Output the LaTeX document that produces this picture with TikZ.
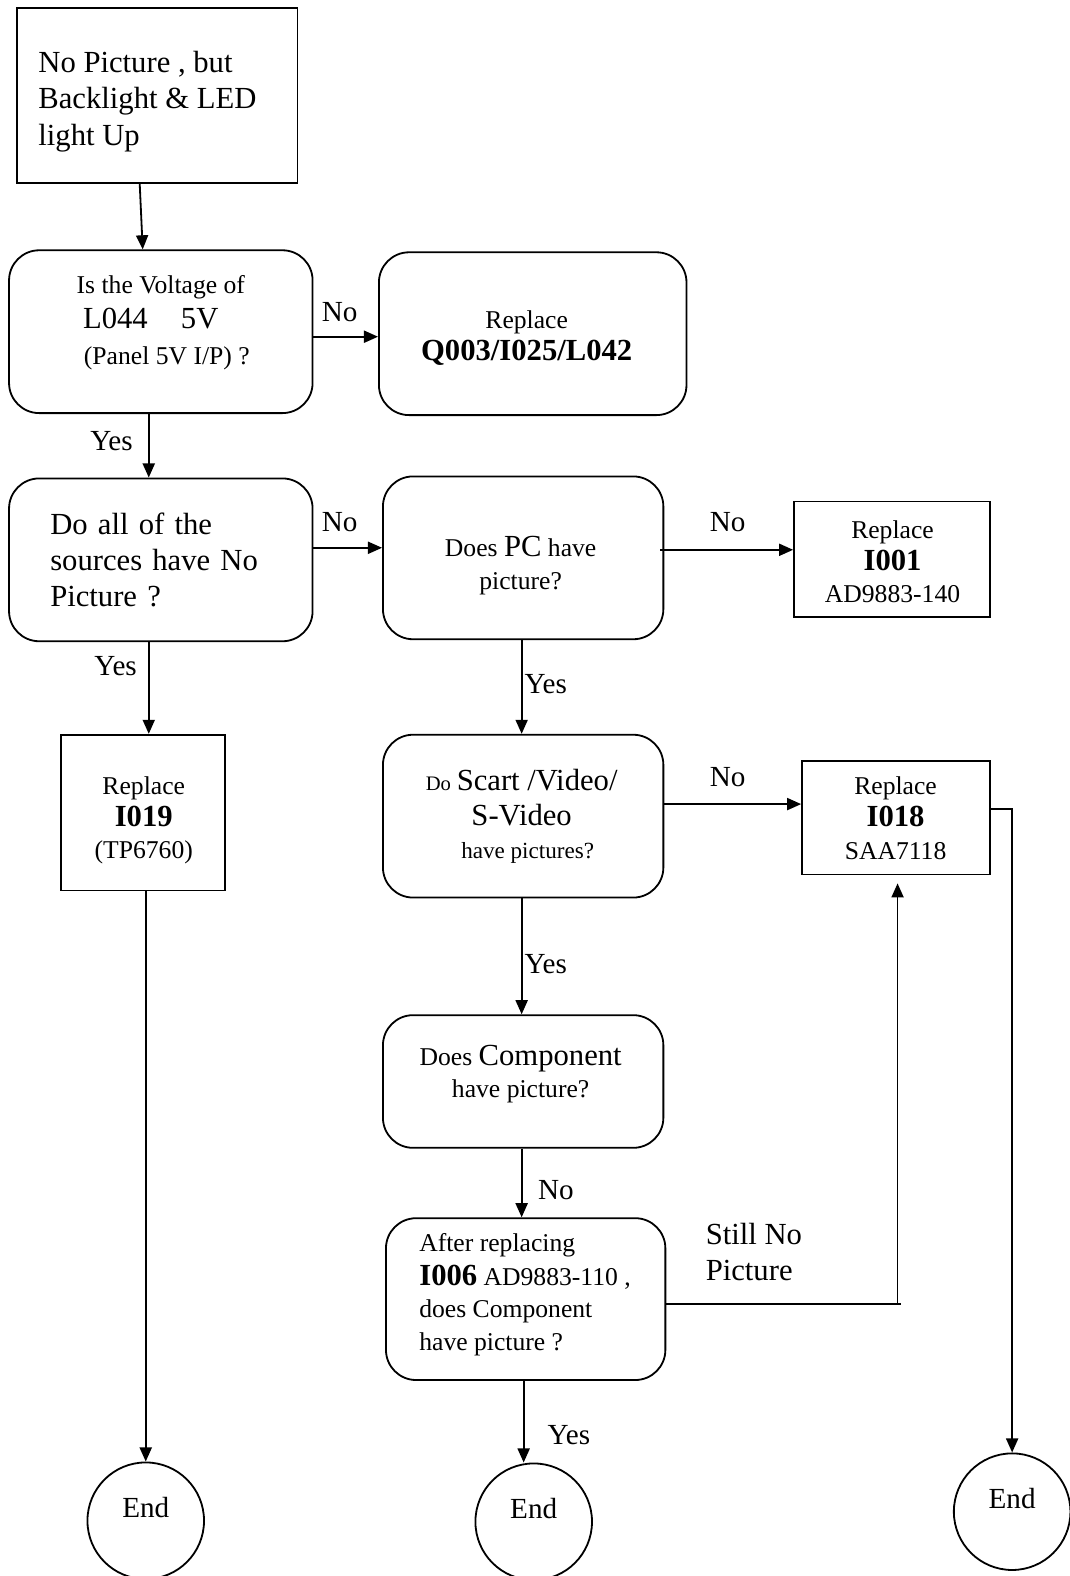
\documentclass[tikz,border=0pt]{standalone}
\usepackage{fontspec}
\setmainfont{Liberation Serif}
\usetikzlibrary{arrows.meta,calc}
\newcommand\fsz[2]{\fontsize{#1}{#2}\selectfont}
\begin{document}
\begin{tikzpicture}[x=1pt,y=-1pt,
  ln/.style={line width=1.8pt},
  arr/.style={line width=1.8pt,-{Triangle[length=14pt,width=12pt]}},
  rbox/.style={draw,line width=1.8pt,rounded corners=30pt,inner sep=0pt},
  sbox/.style={draw,line width=1.8pt,inner sep=0pt},
  txt/.style={inner sep=0pt,align=center,font=\fsz{25.5}{32}},
  lbl/.style={inner sep=0pt,font=\fsz{29}{35}},
  endc/.style={draw,circle,line width=1.8pt,minimum size=116pt,inner sep=0pt,font=\fsz{29}{35}}]
\useasboundingbox (0,0) rectangle (1064,1568);

% boxes
\node[sbox,minimum width=279pt,minimum height=174pt] (start) at (156.5,95) {};
\node[txt,align=left,anchor=west,font=\fsz{30.5}{36}] (startt) at (38,101) {No Picture , but\\Backlight \& LED\\light Up};

\node[rbox,minimum width=302pt,minimum height=162pt] (volt) at (160,330) {};
\node[txt,font=\fsz{25.5}{33}] (voltt) at (160,321) {Is the Voltage of\\[2pt]{\fsz{30.5}{36}L044\hspace{33pt}5V}\mbox{\hspace{20pt}}\\[3pt]\mbox{\hspace{12pt}}(Panel 5V I/P) ?};

\node[rbox,minimum width=306pt,minimum height=162pt] (q003) at (530,332) {};
\node[txt] (q003t) at (524,336) {Replace\\{\fsz{30.5}{36}\bfseries Q003/I025/L042}};

\node[rbox,minimum width=302pt,minimum height=162pt,text width=220pt,inner xsep=41pt,align=left,font=\fsz{30.5}{36}] (doall) at (160,557) {Do all of the\\sources have No\\Picture ?};

\node[rbox,minimum width=279pt,minimum height=162pt] (pc) at (520.5,555) {};
\node[txt,font=\fsz{25.5}{33}] (pct) at (518,563) {Does {\fsz{30.5}{36}PC} have\\picture?};

\node[sbox,minimum width=195pt,minimum height=115pt] (i001) at (887.5,556.5) {};
\node[txt] (i001t) at (888,559) {Replace\\{\fsz{30.5}{36}\bfseries I001}\\AD9883-140};

\node[sbox,minimum width=163pt,minimum height=155pt] (i019) at (142.5,808.5) {};
\node[txt] (i019t) at (143,816) {Replace\\{\fsz{30.5}{36}\bfseries I019}\\(TP6760)};

\node[rbox,minimum width=279pt,minimum height=162pt] (scart) at (520.5,812) {};
\node[txt,font=\fsz{23}{33}] (scartt) at (519,812) {{\fsz{20.5}{25}Do} {\fsz{30.5}{36}Scart /Video/}\\[2pt]{\fsz{30.5}{36}S-Video}\\\mbox{\hspace{12pt}}have pictures?};

\node[sbox,minimum width=187pt,minimum height=113pt] (i018) at (891.5,813.5) {};
\node[txt] (i018t) at (891,814) {Replace\\{\fsz{30.5}{36}\bfseries I018}\\SAA7118};

\node[rbox,minimum width=279pt,minimum height=132pt] (comp) at (520.5,1076) {};
\node[txt] (compt) at (518,1069) {Does {\fsz{30.5}{36}Component}\\have picture?};

\node[rbox,minimum width=278pt,minimum height=161pt] (after) at (523,1292.5) {};
\node[txt,align=left,anchor=west] (aftert) at (417,1288) {After replacing\\[2pt]{\fsz{30.5}{36}\bfseries I006} AD9883-110 ,\\does Component\\have picture ?};

\node[endc] (end1) at (145,1513) {\raisebox{26pt}{End}};
\node[endc] (end2) at (531,1514) {\raisebox{26pt}{End}};
\node[endc] (end3) at (1007,1504) {\raisebox{26pt}{End}};

% connectors
\draw[arr] ([xshift=-17.5pt]start.south) -- ([xshift=-18pt]volt.north);
\draw[arr] ([yshift=-5pt]volt.east) -- ([yshift=-3pt]q003.west);
\node[lbl] (l1) at (338,311) {No};
\draw[arr] ([xshift=-12pt]volt.south) -- ([xshift=-12pt]doall.north);
\node[lbl] (l2) at (111,439) {Yes};
\draw[arr] ([yshift=12pt]doall.east) -- ([yshift=10pt]pc.west);
\node[lbl] (l3) at (338,519) {No};
\draw[arr] ([xshift=-4pt,yshift=8pt]pc.east) -- ([yshift=9.5pt]i001.west);
\node[lbl] (l4) at (724,519) {No};
\draw[arr] ([xshift=-12pt]doall.south) -- ([xshift=5.5pt]i019.north);
\node[lbl] (l5) at (115,663) {Yes};
\draw[arr] ([xshift=-1.5pt]pc.south) -- ([xshift=-1.5pt]scart.north);
\node[lbl] (l6) at (543,681) {Yes};
\draw[arr] ([yshift=12pt]scart.east) -- ([yshift=13.5pt]i018.west);
\node[lbl] (l7) at (724,773) {No};
\draw[arr] ([xshift=-1.5pt]scart.south) -- ([xshift=-1.5pt]comp.north);
\node[lbl] (l8) at (543,959) {Yes};
\draw[arr] ([xshift=-1.5pt]comp.south) -- ([xshift=-4pt]after.north);
\node[lbl] (l9) at (553,1184) {No};
\coordinate (sn) at (893,1297);
\draw[ln] (after.east |- sn) -- ([xshift=3pt]sn);
\draw[arr] (sn) -- ([xshift=1.5pt,yshift=-8pt]i018.south);
\node[lbl,anchor=west,align=left,font=\fsz{30.5}{36}] (l10) at (702,1246) {Still No\\Picture};
\draw[arr] ([yshift=8.5pt]i018.east) -| (end3.north);
\draw[arr] (i019.south -| end1.north) -- (end1.north);
\draw[arr] ([xshift=-2pt]after.south) -- ([xshift=-10pt]end2.north);
\node[lbl] (l11) at (566,1428) {Yes};
\end{tikzpicture}
\end{document}
